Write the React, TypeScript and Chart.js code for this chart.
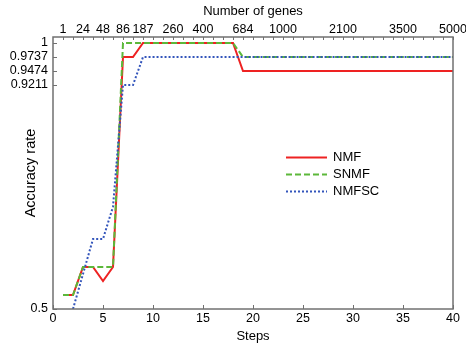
import React, { useEffect, useRef } from 'react';
import { Chart, registerables } from 'chart.js';

Chart.register(...registerables);

// ---- data ----
const steps = [1, 2, 3, 4, 5, 6, 7, 8, 9, 10, 11, 12, 13, 14, 15, 16, 17, 18, 19, 20,
  21, 22, 23, 24, 25, 26, 27, 28, 29, 30, 31, 32, 33, 34, 35, 36, 37, 38, 39, 40];

const nmf = [0.5263, 0.5263, 0.5789, 0.5789, 0.5526, 0.5789, 0.9737, 0.9737, 1, 1,
  1, 1, 1, 1, 1, 1, 1, 1, 0.9474, 0.9474,
  0.9474, 0.9474, 0.9474, 0.9474, 0.9474, 0.9474, 0.9474, 0.9474, 0.9474, 0.9474,
  0.9474, 0.9474, 0.9474, 0.9474, 0.9474, 0.9474, 0.9474, 0.9474, 0.9474, 0.9474];

const snmf = [0.5263, 0.5263, 0.5789, 0.5789, 0.5789, 0.5789, 1, 1, 1, 1,
  1, 1, 1, 1, 1, 1, 1, 1, 0.9737, 0.9737,
  0.9737, 0.9737, 0.9737, 0.9737, 0.9737, 0.9737, 0.9737, 0.9737, 0.9737, 0.9737,
  0.9737, 0.9737, 0.9737, 0.9737, 0.9737, 0.9737, 0.9737, 0.9737, 0.9737, 0.9737];

const nmfsc = [null, 0.5, 0.5658, 0.6316, 0.6316, 0.6923, 0.9211, 0.9211, 0.9737, 0.9737,
  0.9737, 0.9737, 0.9737, 0.9737, 0.9737, 0.9737, 0.9737, 0.9737, 0.9737, 0.9737,
  0.9737, 0.9737, 0.9737, 0.9737, 0.9737, 0.9737, 0.9737, 0.9737, 0.9737, 0.9737,
  0.9737, 0.9737, 0.9737, 0.9737, 0.9737, 0.9737, 0.9737, 0.9737, 0.9737, 0.9737];

const seriesLabels = ['NMF', 'SNMF', 'NMFSC'];

const geneTickSteps = [1, 3, 5, 7, 9, 12, 15, 19, 23, 29, 35, 40];
const geneTickLabels = ['1', '24', '48', '86', '187', '260', '400', '684', '1000', '2100', '3500', '5000'];

const accTickValues = [0.5, 0.9211, 0.9474, 0.9737, 1];
const accTickLabels = ['0.5', '0.9211', '0.9474', '0.9737', '1'];

const FONT = '"Liberation Sans", Arial, Helvetica, sans-serif';
const AXIS_COLOR = '#707070';

const framePlugin = {
  id: 'frame',
  afterDatasetsDraw(chart: any) {
    const { ctx, chartArea: a, scales } = chart;
    ctx.save();
    ctx.strokeStyle = AXIS_COLOR;
    ctx.lineWidth = 1;
    ctx.beginPath();
    scales.x.ticks.forEach((t: any) => {
      const px = Math.round(scales.x.getPixelForValue(t.value)) + 0.5;
      ctx.moveTo(px, a.bottom);
      ctx.lineTo(px, a.bottom - 4);
    });
    steps.forEach((s) => {
      const px = Math.round(scales.x2.getPixelForValue(s)) + 0.5;
      ctx.moveTo(px, a.top);
      ctx.lineTo(px, a.top + 3);
    });
    scales.y.ticks.forEach((t: any) => {
      const py = Math.round(scales.y.getPixelForValue(t.value)) + 0.5;
      ctx.moveTo(a.left, py);
      ctx.lineTo(a.left + 4, py);
    });
    ctx.stroke();
    ctx.lineWidth = 1.5;
    ctx.strokeRect(a.left, a.top, a.right - a.left, a.bottom - a.top);

    // legend
    const lx0 = 286, lx1 = 327, tx = 333, ly0 = 157, dy = 17;
    ctx.font = '13px ' + FONT;
    ctx.textBaseline = 'middle';
    ctx.textAlign = 'left';
    chart.data.datasets.forEach((ds: any, i: number) => {
      const y = ly0 + i * dy + 0.5;
      ctx.save();
      ctx.strokeStyle = ds.borderColor;
      ctx.lineWidth = ds.borderWidth;
      ctx.setLineDash(ds.borderDash || []);
      ctx.lineCap = 'butt';
      ctx.beginPath();
      ctx.moveTo(lx0, y);
      ctx.lineTo(lx1, y);
      ctx.stroke();
      ctx.restore();
      ctx.fillStyle = '#000';
      ctx.fillText(ds.label, tx, y);
    });
    ctx.restore();
  },
};

export default function App() {
  const ref = useRef<HTMLCanvasElement>(null);

  useEffect(() => {
    if (!ref.current) return;
    const toPts = (vals: (number | null)[]) => steps.map((s, i) => ({ x: s, y: vals[i] }));
    const chart = new Chart(ref.current, {
      type: 'line',
      data: {
        datasets: [
          {
            label: seriesLabels[0], data: toPts(nmf) as any, borderColor: '#ee2222',
            borderWidth: 2, pointRadius: 0, tension: 0, order: 3, xAxisID: 'x', yAxisID: 'y',
          },
          {
            label: seriesLabels[1], data: toPts(snmf) as any, borderColor: '#5cb83a',
            borderWidth: 2, borderDash: [6, 3], pointRadius: 0, tension: 0, order: 2, xAxisID: 'x', yAxisID: 'y',
          },
          {
            label: seriesLabels[2], data: toPts(nmfsc) as any, borderColor: '#3355bb',
            borderWidth: 2, borderDash: [2, 2], pointRadius: 0, tension: 0, order: 1, xAxisID: 'x', yAxisID: 'y',
            spanGaps: false,
          },
        ],
      },
      options: {
        responsive: false,
        animation: false,
        layout: { padding: { left: 0, top: 0, right: 13, bottom: 0 } },
        plugins: { legend: { display: false }, tooltip: { enabled: false } },
        scales: {
          x: {
            type: 'linear', position: 'bottom', min: 0, max: 40,
            grid: { display: false, drawTicks: false },
            border: { display: false },
            ticks: { stepSize: 5, autoSkip: false, maxRotation: 0, padding: 2, color: '#000', font: { size: 12.5, family: FONT } },
            title: { display: true, text: 'Steps', color: '#000', font: { size: 13, family: FONT }, padding: { top: 0, bottom: 0 } },
            afterFit: (s: any) => { s.height = 35; s.paddingLeft = 0; s.paddingRight = 0; },
          },
          x2: {
            type: 'linear', position: 'top', min: 0, max: 40,
            grid: { display: false, drawTicks: false },
            border: { display: false },
            afterBuildTicks: (s: any) => { s.ticks = geneTickSteps.map((v) => ({ value: v })); },
            ticks: {
              autoSkip: false, maxRotation: 0, padding: 0, color: '#000', font: { size: 12.5, family: FONT },
              callback: (_v: any, i: number) => geneTickLabels[i],
            },
            title: { display: true, text: 'Number of genes', color: '#000', font: { size: 13, family: FONT }, padding: { top: 4, bottom: 0 } },
            afterFit: (s: any) => { s.height = 37; s.paddingLeft = 0; s.paddingRight = 0; },
          },
          y: {
            type: 'linear', position: 'left', min: 0.5, max: 1.0113,
            grid: { display: false, drawTicks: false },
            border: { display: false },
            afterBuildTicks: (s: any) => { s.ticks = accTickValues.map((v) => ({ value: v })); },
            ticks: {
              autoSkip: false, padding: 5, color: '#000', font: { size: 12.5, family: FONT },
              callback: (_v: any, i: number) => accTickLabels[i],
            },
            title: { display: true, text: 'Accuracy rate', color: '#000', font: { size: 14.5, family: FONT }, padding: { top: 22, bottom: 0 } },
            afterFit: (s: any) => { s.width = 53; s.paddingTop = 0; s.paddingBottom = 0; },
          },
        },
      },
      plugins: [framePlugin],
    } as any);
    return () => chart.destroy();
  }, []);

  return (
    <div style={{ position: 'absolute', left: 0, top: 0, width: 466, height: 344, background: '#fff' }}>
      <canvas ref={ref} width={466} height={344} style={{ display: 'block' }} />
    </div>
  );
}
